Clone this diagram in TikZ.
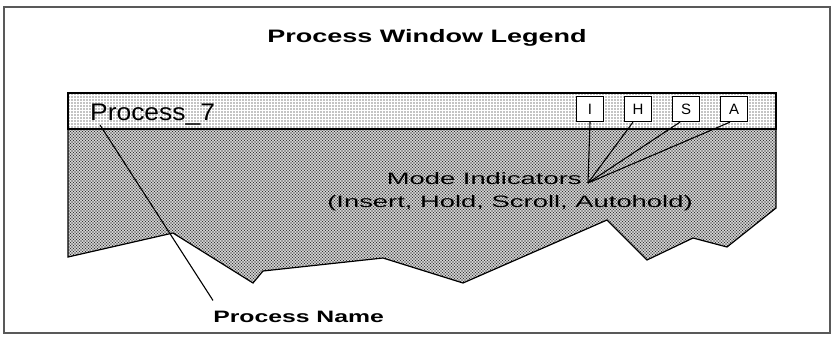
\documentclass[tikz,border=0pt]{standalone}
\usepackage{fontspec}
\setmainfont{Liberation Sans}
\usetikzlibrary{positioning,patterns}
\pgfdeclarepatternformonly{sparse dots}{\pgfqpoint{-1pt}{-1pt}}{\pgfqpoint{1pt}{1pt}}{\pgfqpoint{3pt}{3pt}}%
	{\pgfpathcircle{\pgfqpoint{0pt}{0pt}}{.7pt}\pgfusepath{fill}}
\pgfdeclarepatternformonly{dense dots}{\pgfqpoint{-1pt}{-1pt}}{\pgfqpoint{2.5pt}{2.5pt}}{\pgfqpoint{3pt}{3pt}}%
	{\pgfpathcircle{\pgfqpoint{0pt}{0pt}}{.8pt}\pgfpathcircle{\pgfqpoint{1.5pt}{1.5pt}}{.8pt}\pgfusepath{fill}}
\tikzset{
	node distance=48pt, % spacing of the mode boxes
	frame/.style={draw=black!65, line width=2.4pt},
	titlebar/.style={draw, line width=1.2pt, pattern=sparse dots, pattern color=black},
	winbody/.style={draw, line width=1.2pt, pattern=dense dots, pattern color=black!80},
	pointer/.style={draw, line width=1.1pt},
	modebox/.style={draw, line width=1.2pt, fill=white, minimum width=27pt, minimum height=25pt, inner sep=0pt, font=\fontsize{15}{15}\selectfont},
	heading/.style={inner sep=0pt, font=\bfseries\fontsize{18}{20}\selectfont, xscale=1.5},
	callout/.style={inner sep=0pt, font=\bfseries\fontsize{16.5}{18}\selectfont, xscale=1.5},
	legendtext/.style={inner sep=0pt, font=\fontsize{16.5}{18}\selectfont, xscale=1.66},
}

\begin{document}
\begin{tikzpicture}[x=1pt, y=-1pt]
	\useasboundingbox (0,0) rectangle (835,343);
	\draw[frame] (4,7) rectangle (830,333);

	\node[heading, anchor=base] (TITLE) at (427,42) {Process Window Legend};

	\draw[winbody] (68,129) -- (68,257) -- (173,233) -- (253,283) -- (263,271) -- (383,258)
		-- (463,283) -- (607,220) -- (647,260) -- (693,238) -- (727,247) -- (776,208) -- (776,129) -- cycle;
	\draw[titlebar] (68,93) rectangle (776,129);

	\node[inner sep=0pt, font=\fontsize{24}{26}\selectfont, xscale=1.1, anchor=base west] (PROC_7) at (90,120) {Process\_7};

	\node[modebox] (IND_I) at (590,109) {I};
	\node[modebox, right of=IND_I] (IND_H) {H};
	\node[modebox, right of=IND_H] (IND_S) {S};
	\node[modebox, right of=IND_S] (IND_A) {A};

	\node[legendtext, anchor=base east] (MODE_IND) at (582,184) {Mode Indicators};
	\node[legendtext, anchor=base east] (MODE_LIST) at (693,207) {(Insert, Hold, Scroll, Autohold)};
	\coordinate (MODE_HUB) at (588,183);

	\node[callout, anchor=base west] (PROC_NAME) at (213,322) {Process Name};

	\draw[pointer] ([xshift=10pt]PROC_7.south west) -- ([yshift=10pt]PROC_NAME.north west);
	\draw[pointer] (IND_I.south) -- (MODE_HUB);
	\draw[pointer] ([xshift=-5pt]IND_H.south) -- (MODE_HUB);
	\draw[pointer] ([xshift=-6pt]IND_S.south) -- (MODE_HUB);
	\draw[pointer] ([xshift=-4pt]IND_A.south) -- (MODE_HUB);
\end{tikzpicture}
\end{document}
